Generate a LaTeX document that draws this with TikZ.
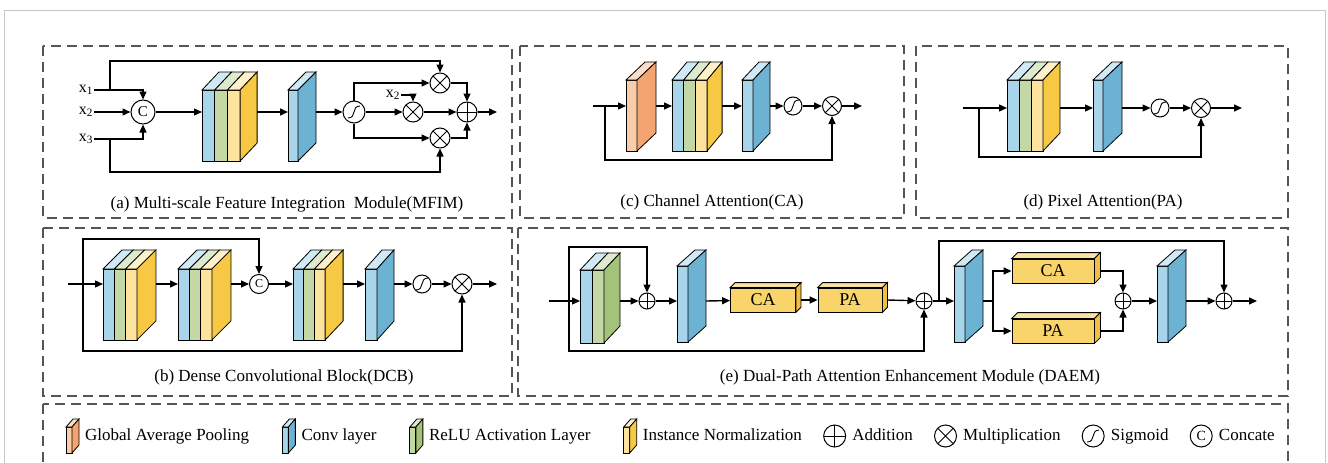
\documentclass[tikz,border=0pt]{standalone}
\usepackage{fontspec}
\setmainfont{Liberation Serif}
\usetikzlibrary{arrows.meta,positioning,calc}

\definecolor{cvF}{HTML}{A8D5EA}\definecolor{cvS}{HTML}{6CB2D3}\definecolor{cvT}{HTML}{CFE9F5}
\definecolor{rlF}{HTML}{C4D8A5}\definecolor{rlS}{HTML}{A3C27A}\definecolor{rlT}{HTML}{DEEACD}
\definecolor{inF}{HTML}{FDE49E}\definecolor{inS}{HTML}{F7C843}\definecolor{inT}{HTML}{FEF0C8}
\definecolor{gpF}{HTML}{F9CDAA}\definecolor{gpS}{HTML}{F3A470}\definecolor{gpT}{HTML}{FBDDC6}
\definecolor{bxF}{HTML}{F9D46B}\definecolor{bxS}{HTML}{F0BE45}\definecolor{bxT}{HTML}{FBE4A3}
\definecolor{frm}{HTML}{555555}

\tikzset{
  slw/.store in=\slw, slh/.store in=\slh, sldx/.store in=\sldx,
  sldy/.store in=\sldy, slt/.store in=\slt,
  slw=12, slh=71, sldx=17, sldy=18, slt=22,
  pics/stack/.style={code={
    \foreach \col [count=\i from 0] in {#1} {
      \filldraw[line width=0.8pt,fill=\col F] (\i*\slw,-\slt) rectangle ++(\slw,\slh);
      \filldraw[line width=0.8pt,fill=\col T] (\i*\slw,-\slt) -- ++(\sldx,-\sldy) -- ++(\slw,0) -- ++(-\sldx,\sldy) -- cycle;
      \xdef\lastc{\col}\xdef\nslab{\i}
    }
    \filldraw[line width=0.8pt,fill=\lastc S] (\nslab*\slw+\slw,-\slt) -- ++(\sldx,-\sldy) -- ++(0,\slh) -- ++(-\sldx,\sldy) -- cycle;
    \coordinate (-in) at (0,0);
    \coordinate (-out) at (\nslab*\slw+\slw+\sldx,0);
  }},
}
\newcommand\boxdepth[2]{%
  \filldraw[line width=0.8pt,fill=bxT] (#1.north west) -- ++(#2,-#2) -- ([shift={(#2,-#2)}]#1.north east) -- (#1.north east) -- cycle;
  \filldraw[line width=0.8pt,fill=bxS] (#1.north east) -- ++(#2,-#2) -- ([shift={(#2,-#2)}]#1.south east) -- (#1.south east) -- cycle;}

\begin{document}
\begin{tikzpicture}[x=1pt,y=-1pt,
  ln/.style={line width=1.4pt},
  lnk/.style={line width=1.4pt,-{Triangle[length=8pt,width=7pt]}},
  panel/.style={draw=frm,line width=2pt,dash pattern=on 10pt off 6pt},
  op/.style={circle,draw,line width=1pt,fill=white,minimum size=#1,inner sep=0pt},
  add/.style={op=#1,path picture={\draw[line width=0.9pt] (path picture bounding box.north) -- (path picture bounding box.south) (path picture bounding box.west) -- (path picture bounding box.east);}},
  mul/.style={op=#1,path picture={\draw[line width=0.9pt] (path picture bounding box.north west) -- (path picture bounding box.south east) (path picture bounding box.north east) -- (path picture bounding box.south west);}},
  sig/.style={op=#1,path picture={\draw[line width=0.9pt,shift={(path picture bounding box.center)},scale=#1/20] (-6,6) .. controls (3,6) and (-3,-6) .. (6,-6);}},
  cat/.style={op=#1,font=\fontsize{15}{15}\selectfont},
  captxt/.style={font=\fontsize{17}{20}\selectfont},
  lab/.style={font=\fontsize{16}{16}\selectfont,inner sep=1pt},
  attbox/.style={draw,line width=0.8pt,fill=bxF,minimum width=#1,minimum height=24pt,inner sep=0pt,font=\fontsize{18}{18}\selectfont},
  lgt/.style={font=\fontsize{17}{17}\selectfont,inner sep=0pt,text height=12pt,text depth=4pt,anchor=west},
]
\useasboundingbox (0,0) rectangle (1328,463);
\clip (0,0) rectangle (1328,463);
\draw[black!22,line width=1pt] (4,480) -- (4,10) -- (1325,10) -- (1325,480);
\draw[panel] (43,46) rectangle (512,218);
\draw[panel] (520,46) rectangle (904,218);
\draw[panel] (916,46) rectangle (1288,218);
\draw[panel] (43,228) rectangle (512,396);
\draw[panel] (518,228) rectangle (1288,396);
\draw[panel] (43,404) rectangle (1288,490);

% (a)
\node[lab] (x1) at (86,90) {x\textsubscript{1}};
\node[lab] (x2) at (86,112) {x\textsubscript{2}};
\node[lab] (x3) at (86,139) {x\textsubscript{3}};
\coordinate (a-b1) at (110,90);
\coordinate (a-b3) at (110,139);
\node[cat=24] (a-cat) at (143,112) {C};
\pic[slw=12.7] (a-blk) at (202,112) {stack={cv,rl,in}};
\pic[slw=10,sldx=18] (a-cv) at (288,112) {stack={cv}};
\node[sig=22] (a-sig) at (354,112) {};
\node[mul=20] (a-m1) at (440,83) {};
\node[mul=20] (a-m2) at (413,112) {};
\node[mul=20] (a-m3) at (440,138) {};
\node[add=20] (a-add) at (467,112) {};
\node[lab] (x2b) at (393,95) {x\textsubscript{2}};
\coordinate (a-out) at (497,112);
\draw[lnk] (x1) -| (a-cat);
\draw[lnk] (x2) -- (a-cat);
\draw[lnk] (x3) -| (a-cat);
\draw[lnk] (a-b1) -- ++(0,-29) -| (a-m1);
\draw[lnk] (a-b3) -- ++(0,33) -| (a-m3);
\draw[lnk] (a-cat) -- (a-blk-in);
\draw[lnk] (a-blk-out) -- (a-cv-in);
\draw[lnk] (a-cv-out) -- (a-sig);
\draw[lnk] (a-sig) -- (a-m2);
\draw[lnk] (a-sig.north) |- (a-m1);
\draw[lnk] (a-sig.south) |- (a-m3);
\draw[lnk] (x2b) -| (a-m2);
\draw[lnk] (a-m1) -| (a-add);
\draw[lnk] (a-m3) -| (a-add);
\draw[lnk] (a-m2) -- (a-add);
\draw[lnk] (a-add) -- (a-out);
\node[captxt] (a-cap) at (287,204) {(a) Multi-scale Feature Integration\ \ Module(MFIM)};

% (c)
\coordinate (c-in) at (593,106);
\coordinate (c-br) at (605,106);
\pic[slw=11,sldx=19,slt=26] (c-gp) at (626,106) {stack={gp}};
\pic[slw=11.7,sldx=15,slt=26] (c-blk) at (672,106) {stack={cv,rl,in}};
\pic[slw=11,sldx=17,slt=26] (c-cv) at (742,106) {stack={cv}};
\node[sig=18] (c-sig) at (793,106) {};
\node[mul=19] (c-mul) at (832,106) {};
\coordinate (c-out) at (862,106);
\draw[lnk] (c-in) -- (c-gp-in);
\draw[lnk] (c-gp-out) -- (c-blk-in);
\draw[lnk] (c-blk-out) -- (c-cv-in);
\draw[lnk] (c-cv-out) -- (c-sig);
\draw[lnk] (c-sig) -- (c-mul);
\draw[lnk] (c-mul) -- (c-out);
\draw[lnk] (c-br) -- ++(0,54) -| (c-mul);
\node[captxt] (c-cap) at (712,202) {(c) Channel Attention(CA)};

% (d)
\coordinate (d-in) at (963,108);
\coordinate (d-br) at (979,108);
\pic[slw=12,sldx=17,slt=28] (d-blk) at (1007,108) {stack={cv,rl,in}};
\pic[slw=10,sldx=19,slt=28] (d-cv) at (1093,108) {stack={cv}};
\node[sig=18] (d-sig) at (1160,108) {};
\node[mul=19] (d-mul) at (1201,108) {};
\coordinate (d-out) at (1242,108);
\draw[lnk] (d-in) -- (d-blk-in);
\draw[lnk] (d-blk-out) -- (d-cv-in);
\draw[lnk] (d-cv-out) -- (d-sig);
\draw[lnk] (d-sig) -- (d-mul);
\draw[lnk] (d-mul) -- (d-out);
\draw[lnk] (d-br) -- ++(0,49) -| (d-mul);
\node[captxt] (d-cap) at (1103,202) {(d) Pixel Attention(PA)};

% (b)
\coordinate (b-in) at (68,284);
\coordinate (b-br) at (83,284);
\pic[slw=11.3,sldx=19,sldy=19,slt=15] (b-blk1) at (103,284) {stack={cv,rl,in}};
\pic[slw=11.3,sldx=19,sldy=19,slt=15] (b-blk2) at (178,284) {stack={cv,rl,in}};
\node[cat=19,font=\fontsize{12}{12}\selectfont] (b-cat) at (259,284) {C};
\pic[slw=10.7,sldx=18,sldy=19,slt=15] (b-blk3) at (293,284) {stack={cv,rl,in}};
\pic[slw=12,sldx=17,sldy=19,slt=15] (b-cv) at (365,284) {stack={cv}};
\node[sig=18] (b-sig) at (422,284) {};
\node[mul=20] (b-mul) at (462,284) {};
\coordinate (b-out) at (497,284);
\draw[lnk] (b-in) -- (b-blk1-in);
\draw[lnk] (b-blk1-out) -- (b-blk2-in);
\draw[lnk] (b-blk2-out) -- (b-cat);
\draw[lnk] (b-cat) -- (b-blk3-in);
\draw[lnk] (b-blk3-out) -- (b-cv-in);
\draw[lnk] (b-cv-out) -- (b-sig);
\draw[lnk] (b-sig) -- (b-mul);
\draw[lnk] (b-mul) -- (b-out);
\draw[lnk] (b-br) -- ++(0,-45) -| (b-cat);
\draw[lnk] (b-br) -- ++(0,67) -| (b-mul);
\node[captxt] (b-cap) at (284,377) {(b) Dense Convolutional Block(DCB)};

% (e)
\coordinate (e-in) at (549,301);
\coordinate (e-br) at (569,301);
\pic[slw=12,sldx=16,sldy=17,slh=73,slt=31] (e-blk) at (580,301) {stack={cv,rl}};
\node[add=16] (e-a1) at (647,301) {};
\pic[slw=11,sldx=18,sldy=16,slh=76,slt=35] (e-cv1) at (677,301) {stack={cv}};
\node[attbox=65] (e-ca) at (763,300) {CA};
\node[attbox=64] (e-pa) at (850,300) {PA};
\boxdepth{e-ca}{5}
\boxdepth{e-pa}{5}
\node[add=16] (e-a2) at (924,301) {};
\coordinate (e-br2) at (939,301);
\pic[slw=11,sldx=18,sldy=16,slh=76,slt=35] (e-cv2) at (954,301) {stack={cv}};
\coordinate (e-sp) at (993,301);
\node[attbox=82] (e-ca2) at (1053,271) {CA};
\node[attbox=82] (e-pa2) at (1053,331) {PA};
\boxdepth{e-ca2}{6}
\boxdepth{e-pa2}{6}
\node[add=16] (e-a3) at (1123,301) {};
\pic[slw=11,sldx=18,sldy=16,slh=76,slt=35] (e-cv3) at (1157,301) {stack={cv}};
\node[add=16] (e-a4) at (1224,301) {};
\coordinate (e-out) at (1257,301);
\draw[lnk] (e-in) -- (e-blk-in);
\draw[lnk] (e-blk-out) -- (e-a1);
\draw[lnk] (e-br) -- ++(0,-54) -| (e-a1);
\draw[lnk] (e-a1) -- (e-cv1-in);
\draw[lnk] (e-cv1-out) -- (e-ca);
\draw[lnk] ([xshift=5pt]e-ca.east) -- (e-pa);
\draw[lnk] ([xshift=5pt]e-pa.east) -- (e-a2);
\draw[lnk] (e-br) -- ++(0,50) -| (e-a2);
\draw[lnk] (e-a2) -- (e-cv2-in);
\draw[ln] (e-cv2-out) -- (e-sp);
\draw[lnk] (e-sp) |- (e-ca2);
\draw[lnk] (e-sp) |- (e-pa2);
\draw[lnk] ([xshift=6pt]e-ca2.east) -| (e-a3);
\draw[lnk] ([xshift=6pt]e-pa2.east) -| (e-a3);
\draw[lnk] (e-a3) -- (e-cv3-in);
\draw[lnk] (e-cv3-out) -- (e-a4);
\draw[lnk] (e-br2) -- ++(0,-60) -| (e-a4);
\draw[lnk] (e-a4) -- (e-out);
\node[captxt] (e-cap) at (910,377) {(e) Dual-Path Attention Enhancement Module (DAEM)};

% legend
\pic[slw=6,slh=26,sldx=7,sldy=8,slt=9] (l-gp) at (66,436) {stack={gp}};
\node[lgt,right=6pt of l-gp-out] (l-t1) {Global Average Pooling};
\pic[slw=6,slh=26,sldx=7,sldy=8,slt=9] (l-cv) at ([xshift=33pt]l-t1.east) {stack={cv}};
\node[lgt,right=6pt of l-cv-out] (l-t2) {Conv layer};
\pic[slw=6,slh=26,sldx=7,sldy=8,slt=9] (l-rl) at ([xshift=33pt]l-t2.east) {stack={rl}};
\node[lgt,right=6pt of l-rl-out] (l-t3) {ReLU Activation Layer};
\pic[slw=6,slh=26,sldx=7,sldy=8,slt=9] (l-in) at ([xshift=33pt]l-t3.east) {stack={in}};
\node[lgt,right=6pt of l-in-out] (l-t4) {Instance Normalization};
\node[add=22,right=21pt of l-t4] (l-add) {};
\node[lgt,right=6pt of l-add] (l-t5) {Addition};
\node[mul=22,right=21pt of l-t5] (l-mul) {};
\node[lgt,right=6pt of l-mul] (l-t6) {Multiplication};
\node[sig=22,right=21pt of l-t6] (l-sig) {};
\node[lgt,right=6pt of l-sig] (l-t7) {Sigmoid};
\node[cat=22,font=\fontsize{14}{14}\selectfont,right=21pt of l-t7] (l-cat) {C};
\node[lgt,right=6pt of l-cat] (l-t8) {Concate};
\end{tikzpicture}
\end{document}
